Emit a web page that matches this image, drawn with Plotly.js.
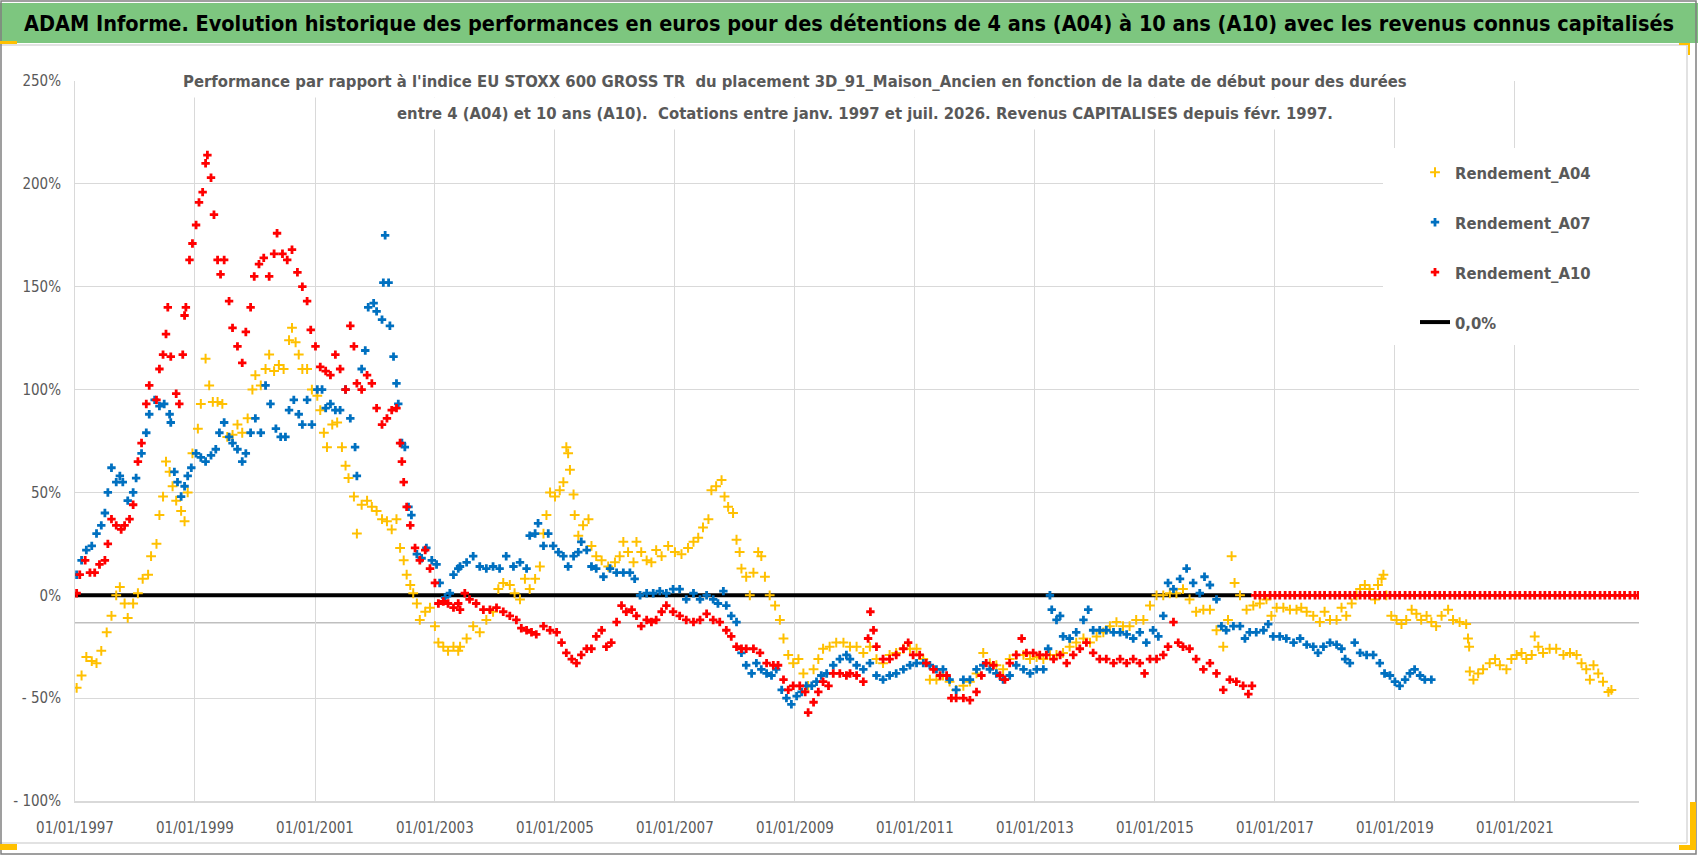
<!DOCTYPE html>
<html>
<head>
<meta charset="utf-8">
<script src="https://cdn.plot.ly/plotly-3.0.1.min.js"></script>
<style>html,body{margin:0;padding:0;background:#fff;}</style>
</head>
<body>
<div id="chart"></div>
<script>
// values (start date as decimal year, performance in %)
const a04Years = [
  1997.03, 1997.11, 1997.19, 1997.28, 1997.36, 1997.44, 1997.53, 1997.61, 1997.69, 1997.75, 1997.83, 1997.88,
  1997.97, 1998.05, 1998.13, 1998.22, 1998.27, 1998.36, 1998.41, 1998.47, 1998.52, 1998.58, 1998.63, 1998.69,
  1998.77, 1998.83, 1998.88, 1998.96, 1999.05, 1999.10, 1999.18, 1999.24, 1999.30, 1999.38, 1999.46, 1999.54,
  1999.63, 1999.71, 1999.79, 1999.88, 1999.96, 2000.01, 2000.10, 2000.18, 2000.24, 2000.32, 2000.40, 2000.48,
  2000.57, 2000.62, 2000.68, 2000.73, 2000.79, 2000.87, 2000.95, 2001.04, 2001.09, 2001.15, 2001.20, 2001.29,
  2001.37, 2001.45, 2001.51, 2001.56, 2001.65, 2001.70, 2001.78, 2001.87, 2001.95, 2002.03, 2002.12, 2002.20,
  2002.28, 2002.36, 2002.42, 2002.48, 2002.53, 2002.59, 2002.64, 2002.70, 2002.75, 2002.84, 2002.92, 2003.00,
  2003.06, 2003.14, 2003.22, 2003.31, 2003.39,
  2003.42, 2003.53, 2003.64, 2003.75, 2003.86, 2003.97, 2004.06, 2004.14, 2004.25, 2004.33, 2004.42, 2004.50,
  2004.58, 2004.67, 2004.75, 2004.81, 2004.86, 2004.92, 2005.00, 2005.08, 2005.14, 2005.19, 2005.22, 2005.25,
  2005.31, 2005.33, 2005.39, 2005.47, 2005.56, 2005.61, 2005.69, 2005.78, 2005.89, 2006.00, 2006.08, 2006.14,
  2006.22, 2006.31, 2006.36, 2006.44, 2006.53, 2006.61, 2006.69, 2006.78, 2006.89, 2007.00, 2007.11, 2007.22,
  2007.31, 2007.39, 2007.47, 2007.56, 2007.61, 2007.69, 2007.78, 2007.83, 2007.89, 2007.97, 2008.03, 2008.08,
  2008.11, 2008.19, 2008.25, 2008.31, 2008.39, 2008.44, 2008.50, 2008.58, 2008.67, 2008.75, 2008.81, 2008.89,
  2008.97, 2009.06, 2009.14, 2009.22, 2009.31, 2009.39, 2009.47, 2009.58, 2009.69, 2009.81,
  2009.92, 2010.03, 2010.14, 2010.25, 2010.36, 2010.47, 2010.58, 2010.69, 2010.81, 2010.92, 2011.03, 2011.14,
  2011.25, 2011.36, 2011.47, 2011.58, 2011.69, 2011.81, 2011.92, 2012.03, 2012.14, 2012.25, 2012.36, 2012.47,
  2012.58, 2012.69, 2012.81, 2012.92, 2013.03, 2013.14, 2013.25, 2013.36, 2013.47, 2013.58, 2013.69, 2013.81,
  2013.92, 2014.03, 2014.14, 2014.25, 2014.36, 2014.47, 2014.58, 2014.69, 2014.81, 2014.92, 2015.03, 2015.14,
  2015.25, 2015.36, 2015.47, 2015.58, 2015.69, 2015.81, 2015.92, 2016.03, 2016.14, 2016.22, 2016.28, 2016.33,
  2016.42,
  2016.53, 2016.64, 2016.75, 2016.86, 2016.94, 2017.03, 2017.14, 2017.25, 2017.36, 2017.44, 2017.53, 2017.64,
  2017.75, 2017.83, 2017.92, 2018.03, 2018.11, 2018.19, 2018.28, 2018.36, 2018.42, 2018.50, 2018.58, 2018.67,
  2018.72, 2018.78, 2018.81, 2018.86, 2018.94, 2019.03, 2019.11, 2019.19, 2019.28, 2019.36, 2019.44, 2019.53,
  2019.61, 2019.69, 2019.78, 2019.89, 2019.97, 2020.08, 2020.19, 2020.22, 2020.24, 2020.25, 2020.31, 2020.39,
  2020.47, 2020.58, 2020.67, 2020.75, 2020.86, 2020.94, 2021.03, 2021.11, 2021.19, 2021.28, 2021.33, 2021.39,
  2021.47, 2021.58, 2021.69, 2021.81, 2021.92, 2022.03, 2022.11, 2022.19, 2022.25, 2022.31, 2022.39, 2022.47,
  2022.56, 2022.61
];
const a04Values = [
  -45, -39, -30, -32, -33, -27, -18, -10, 0, 4, -4, -11,
  -4, 1, 8, 10, 19, 25, 39, 48, 65, 60, 53, 46,
  41, 36, 50, 69, 81, 93, 115, 102, 94, 94, 93, 77,
  78, 83, 79, 86, 100, 107, 102, 110, 117, 109, 112, 110,
  124, 130, 123, 117, 110, 110, 100, 97, 90, 79, 72, 83,
  84, 72, 63, 57, 48, 30, 44, 46, 43, 41, 37, 36,
  32, 37, 23, 17, 10, 5, 1, -4, -12, -8, -6, -15,
  -23, -25, -27, -25, -27,
  -25, -21, -15, -18, -12, -8, 3, 6, 5, 1, -2, 8,
  3, 8, 14, 30, 39, 50, 48, 51, 55, 72, 69, 61,
  49, 39, 29, 34, 37, 24, 19, 17, 14, 16, 19, 26,
  21, 16, 26, 21, 17, 16, 22, 19, 24, 21, 20, 23,
  26, 28, 33, 37, 51, 53, 56, 48, 43, 40, 27, 21,
  13, 9, 0, 11, 21, 19, 9, 0, -5, -12, -21, -29,
  -33, -31, -38, -44, -36, -31, -26, -25, -23, -23,
  -25, -25, -28, -25, -31, -33, -29, -28, -26, -26, -26, -31,
  -41, -41, -39, -42, -46, -44, -42, -38, -28, -33, -34, -36,
  -31, -29, -29, -31, -30, -31, -29, -29, -28, -25, -23, -21,
  -23, -20, -18, -15, -13, -15, -15, -12, -12, -5, 0, 0,
  1, 1, 3, -2, -8, -7, -7, -17, -25, -12, 19, 6,
  0,
  -7, -5, -4, -2, -10, -6, -6, -7, -7, -6, -8, -10,
  -13, -8, -12, -12, -6, -10, -4, 0, 3, 5, 3, -2,
  5, 8, 10, 0, -10, -12, -14, -12, -7, -9, -12, -10,
  -13, -15, -10, -7, -12, -13, -14, -21, -25, -37, -41, -38,
  -36, -33, -31, -34, -36, -31, -29, -28, -31, -29, -20, -25,
  -28, -26, -26, -29, -28, -29, -33, -36, -41, -34, -38, -42,
  -47, -46
];

const a07Years = [
  1997.03, 1997.11, 1997.19, 1997.28, 1997.36, 1997.44, 1997.50, 1997.55, 1997.61, 1997.69, 1997.75, 1997.80,
  1997.88, 1997.97, 1998.02, 1998.11, 1998.19, 1998.24, 1998.33, 1998.41, 1998.49, 1998.58, 1998.60, 1998.66,
  1998.71, 1998.77, 1998.83, 1998.88, 1998.94, 1999.02, 1999.10, 1999.18, 1999.27, 1999.35, 1999.41, 1999.49,
  1999.57, 1999.63, 1999.71, 1999.79, 1999.85, 1999.93, 2000.01, 2000.10, 2000.18, 2000.26, 2000.35, 2000.43,
  2000.51, 2000.57, 2000.65, 2000.73, 2000.79, 2000.87, 2000.95, 2001.04, 2001.12, 2001.18, 2001.26, 2001.34,
  2001.42, 2001.51, 2001.59, 2001.67, 2001.70, 2001.78, 2001.84, 2001.89, 2001.98, 2002.03, 2002.12, 2002.14,
  2002.17, 2002.23, 2002.25, 2002.31, 2002.36, 2002.39, 2002.45, 2002.50, 2002.56, 2002.61, 2002.70, 2002.78,
  2002.86, 2002.95, 2003.03, 2003.08, 2003.17, 2003.25, 2003.31, 2003.39,
  2003.42, 2003.53, 2003.64, 2003.75, 2003.86, 2003.97, 2004.08, 2004.19, 2004.31, 2004.42, 2004.53, 2004.58,
  2004.67, 2004.72, 2004.81, 2004.89, 2004.97, 2005.06, 2005.14, 2005.22, 2005.31, 2005.39, 2005.44, 2005.53,
  2005.61, 2005.69, 2005.81, 2005.92, 2006.03, 2006.14, 2006.25, 2006.33, 2006.42, 2006.53, 2006.64, 2006.75,
  2006.86, 2006.97, 2007.08, 2007.19, 2007.31, 2007.42, 2007.53, 2007.64, 2007.72, 2007.81, 2007.86, 2007.94,
  2008.03, 2008.11, 2008.19, 2008.28, 2008.36, 2008.44, 2008.53, 2008.61, 2008.69, 2008.78, 2008.86, 2008.94,
  2009.03, 2009.11, 2009.19, 2009.28, 2009.36, 2009.44, 2009.53, 2009.64, 2009.75, 2009.86,
  2009.92, 2010.03, 2010.14, 2010.25, 2010.36, 2010.47, 2010.58, 2010.69, 2010.81, 2010.92, 2011.03, 2011.14,
  2011.25, 2011.36, 2011.47, 2011.58, 2011.69, 2011.81, 2011.92, 2012.03, 2012.14, 2012.25, 2012.36, 2012.47,
  2012.58, 2012.69, 2012.81, 2012.92, 2013.03, 2013.14, 2013.22, 2013.25, 2013.28, 2013.36, 2013.42, 2013.47,
  2013.58, 2013.69, 2013.81, 2013.89, 2013.97, 2014.08, 2014.19, 2014.31, 2014.42, 2014.53, 2014.64, 2014.75,
  2014.86, 2014.97, 2015.06, 2015.14, 2015.22, 2015.31, 2015.42, 2015.53, 2015.64, 2015.75, 2015.83, 2015.92,
  2016.03, 2016.11, 2016.19, 2016.31, 2016.42,
  2016.50, 2016.58, 2016.69, 2016.81, 2016.89, 2016.97, 2017.08, 2017.19, 2017.31, 2017.42, 2017.53, 2017.64,
  2017.72, 2017.81, 2017.92, 2018.03, 2018.11, 2018.17, 2018.25, 2018.33, 2018.42, 2018.53, 2018.64, 2018.75,
  2018.83, 2018.92, 2019.00, 2019.08, 2019.17, 2019.25, 2019.33, 2019.42, 2019.50, 2019.61
];
const a07Values = [
  10, 17, 22, 24, 30, 34, 40, 50, 62, 55, 58, 55,
  46, 50, 57, 69, 79, 88, 95, 92, 93, 88, 84, 60,
  55, 48, 53, 58, 62, 69, 67, 65, 68, 71, 79, 84,
  77, 74, 71, 65, 69, 79, 86, 79, 102, 93, 81, 77,
  77, 90, 95, 88, 83, 95, 83, 100, 100, 91, 93, 90,
  90, 100, 86, 72, 58, 110, 119, 140, 142, 138, 134, 152,
  175, 152, 131, 116, 103, 93, 74, 72, 43, 39, 20, 18,
  23, 17, 15, 6, -1, 1, 10, 13,
  14, 16, 19, 14, 13, 14, 13, 19, 14, 16, 13, 29,
  30, 35, 24, 30, 24, 21, 19, 14, 19, 21, 26, 22,
  14, 13, 9, 13, 11, 11, 11, 8, 0, 1, 1, 2,
  1, 3, 3, -2, 1, -2, 0, -2, -4, 2, -5, -10,
  -13, -28, -34, -38, -33, -36, -38, -39, -36, -46, -50, -53,
  -49, -47, -44, -44, -42, -39, -38, -34, -31, -29,
  -31, -34, -36, -33, -39, -41, -39, -38, -36, -34, -33, -33,
  -34, -36, -36, -41, -46, -41, -41, -36, -34, -36, -38, -41,
  -39, -34, -36, -38, -36, -36, -26, 0, -7, -12, -10, -20,
  -21, -18, -12, -7, -17, -17, -17, -18, -18, -19, -21, -18,
  -23, -17, -20, -10, 6, 3, 8, 13, 6, 1, 9, 5,
  -2, -15, -17, -15, -15,
  -21, -18, -18, -17, -14, -20, -20, -21, -23, -21, -24, -25,
  -28, -25, -23, -24, -26, -31, -33, -23, -28, -29, -29, -33,
  -38, -39, -42, -44, -41, -38, -36, -39, -41, -41
];

const a10Years = [
  1997.03, 1997.08, 1997.17, 1997.25, 1997.33, 1997.41, 1997.50, 1997.55, 1997.61, 1997.69, 1997.77, 1997.83,
  1997.91, 1997.97, 1998.05, 1998.11, 1998.19, 1998.24, 1998.36, 1998.41, 1998.47, 1998.52, 1998.55, 1998.60,
  1998.69, 1998.74, 1998.80, 1998.83, 1998.85, 1998.91, 1998.96, 1999.02, 1999.07, 1999.13, 1999.18, 1999.21,
  1999.27, 1999.32, 1999.38, 1999.43, 1999.49, 1999.57, 1999.63, 1999.71, 1999.79, 1999.85, 1999.93, 1999.99,
  2000.07, 2000.15, 2000.24, 2000.32, 2000.37, 2000.46, 2000.54, 2000.62, 2000.71, 2000.79, 2000.87, 2000.93,
  2001.01, 2001.09, 2001.18, 2001.26, 2001.34, 2001.42, 2001.51, 2001.59, 2001.65, 2001.70, 2001.78, 2001.87,
  2001.95, 2002.03, 2002.12, 2002.20, 2002.28, 2002.36, 2002.42, 2002.45, 2002.48, 2002.53, 2002.59, 2002.67,
  2002.75, 2002.84, 2002.92, 2003.00, 2003.06, 2003.14, 2003.22, 2003.31, 2003.39,
  2003.42, 2003.50, 2003.58, 2003.69, 2003.81, 2003.92, 2004.03, 2004.14, 2004.25, 2004.36, 2004.44, 2004.53,
  2004.61, 2004.69, 2004.81, 2004.92, 2005.03, 2005.11, 2005.19, 2005.28, 2005.36, 2005.44, 2005.53, 2005.61,
  2005.69, 2005.78, 2005.86, 2005.94, 2006.03, 2006.11, 2006.19, 2006.28, 2006.36, 2006.44, 2006.53, 2006.61,
  2006.69, 2006.78, 2006.86, 2006.97, 2007.08, 2007.19, 2007.31, 2007.42, 2007.53, 2007.64, 2007.75, 2007.86,
  2007.94, 2008.03, 2008.11, 2008.19, 2008.31, 2008.42, 2008.53, 2008.64, 2008.72, 2008.81, 2008.89, 2008.97,
  2009.08, 2009.17, 2009.22, 2009.31, 2009.39, 2009.47, 2009.56, 2009.64, 2009.75, 2009.86,
  2009.92, 2010.03, 2010.14, 2010.22, 2010.26, 2010.31, 2010.36, 2010.47, 2010.58, 2010.69, 2010.81, 2010.89,
  2010.97, 2011.08, 2011.19, 2011.31, 2011.42, 2011.53, 2011.61, 2011.69, 2011.81, 2011.92, 2012.03, 2012.11,
  2012.19, 2012.31, 2012.42, 2012.50, 2012.58, 2012.69, 2012.78, 2012.86, 2012.97, 2013.08, 2013.19, 2013.31,
  2013.42, 2013.53, 2013.64, 2013.75, 2013.86, 2013.97, 2014.08, 2014.19, 2014.31, 2014.42, 2014.53, 2014.64,
  2014.75, 2014.83, 2014.92, 2015.03, 2015.14, 2015.22, 2015.31, 2015.39, 2015.47, 2015.58, 2015.69, 2015.81,
  2015.92, 2016.03, 2016.14, 2016.25, 2016.36, 2016.47, 2016.56, 2016.62
];
const a10Values = [
  1, 10, 17, 11, 11, 15, 17, 25, 37, 34, 32, 34,
  37, 44, 65, 74, 93, 102, 95, 110, 117, 127, 140, 116,
  98, 93, 117, 136, 140, 163, 171, 180, 191, 196, 210, 214,
  203, 185, 163, 156, 163, 143, 130, 121, 113, 128, 140, 155,
  161, 164, 155, 166, 176, 166, 163, 168, 157, 150, 143, 129,
  121, 111, 109, 107, 117, 110, 100, 131, 121, 103, 100, 107,
  103, 91, 83, 86, 90, 91, 74, 65, 55, 43, 34, 23,
  17, 22, 13, 6, -4, -3, -4, -6, -4,
  -7, 1, -2, -4, -7, -7, -6, -8, -10, -12, -16, -17,
  -18, -19, -15, -17, -18, -23, -28, -31, -33, -29, -26, -26,
  -20, -17, -25, -23, -13, -5, -8, -7, -10, -15, -12, -13,
  -12, -8, -5, -8, -10, -12, -13, -12, -9, -12, -13, -17,
  -20, -25, -26, -26, -26, -28, -33, -34, -34, -41, -46, -44,
  -44, -47, -57, -52, -47, -42, -44, -38, -38, -39,
  -38, -39, -42, -21, -8, -17, -25, -31, -31, -29, -26, -23,
  -29, -29, -33, -36, -39, -39, -50, -50, -50, -51, -47, -39,
  -33, -34, -39, -41, -33, -29, -21, -28, -28, -29, -29, -31,
  -29, -33, -29, -26, -23, -28, -31, -31, -33, -31, -33, -31,
  -33, -38, -31, -31, -29, -25, -13, -23, -25, -26, -31, -36,
  -33, -38, -46, -41, -42, -44, -48, -44
];
// after mid-2016 the 10-year series is plotted at 0
const a10TailYears = [
  2016.67, 2016.75, 2016.83, 2016.92,
  2017.00, 2017.08, 2017.17, 2017.25, 2017.33, 2017.42, 2017.50, 2017.58, 2017.67, 2017.75, 2017.83, 2017.92,
  2018.00, 2018.08, 2018.17, 2018.25, 2018.33, 2018.42, 2018.50, 2018.58, 2018.67, 2018.75, 2018.83, 2018.92,
  2019.00, 2019.08, 2019.17, 2019.25, 2019.33, 2019.42, 2019.50, 2019.58, 2019.67, 2019.75, 2019.83, 2019.92,
  2020.00, 2020.08, 2020.17, 2020.25, 2020.33, 2020.42, 2020.50, 2020.58, 2020.67, 2020.75, 2020.83, 2020.92,
  2021.00, 2021.08, 2021.17, 2021.25, 2021.33, 2021.42, 2021.50, 2021.58, 2021.67, 2021.75, 2021.83, 2021.92,
  2022.00, 2022.08, 2022.17, 2022.25, 2022.33, 2022.42, 2022.50, 2022.58, 2022.67, 2022.75, 2022.83, 2022.92,
  2023.00, 2023.06
];
const a10TailValues = [
  0, 0, 0, 0,
  0, 0, 0, 0, 0, 0, 0, 0, 0, 0, 0, 0,
  0, 0, 0, 0, 0, 0, 0, 0, 0, 0, 0, 0,
  0, 0, 0, 0, 0, 0, 0, 0, 0, 0, 0, 0,
  0, 0, 0, 0, 0, 0, 0, 0, 0, 0, 0, 0,
  0, 0, 0, 0, 0, 0, 0, 0, 0, 0, 0, 0,
  0, 0, 0, 0, 0, 0, 0, 0, 0, 0, 0, 0,
  0, 0
];

const zeroLineYears = [1997.0, 2016.61];
const zeroLineValues = [0, 0];

const xTickDates = ["1997-01-01", "1999-01-01", "2001-01-01", "2003-01-01", "2005-01-01", "2007-01-01",
  "2009-01-01", "2011-01-01", "2013-01-01", "2015-01-01", "2017-01-01", "2019-01-01", "2021-01-01"];
const xTickLabels = ["01/01/1997", "01/01/1999", "01/01/2001", "01/01/2003", "01/01/2005", "01/01/2007",
  "01/01/2009", "01/01/2011", "01/01/2013", "01/01/2015", "01/01/2017", "01/01/2019", "01/01/2021"];
const yTickVals = [-100, -50, 0, 50, 100, 150, 200, 250];
const yTickLabels = ["- 100%", "- 50%", "0%", "50%", "100%", "150%", "200%", "250%"];
const axisCrossValue = -13.4;

const FONT = "'DejaVu Sans Condensed', 'DejaVu Sans', sans-serif";
const GREY_TEXT = "#595959";

// decimal year -> ISO date
function yearToDate(y) {
  const year = Math.floor(y);
  const start = Date.UTC(year, 0, 1);
  const end = Date.UTC(year + 1, 0, 1);
  return new Date(start + (y - year) * (end - start)).toISOString().slice(0, 10);
}

// plot area in pixels
const W = 1698, H = 856;
const PL = 75, PR = 1639, PT = 81, PB = 801;
const px = (x) => (x - PL) / (PR - PL);
const py = (y) => (PB - y) / (PB - PT);

function rect(x0, y0, x1, y1, fill, line) {
  return {
    type: "rect", xref: "paper", yref: "paper",
    x0: px(x0), x1: px(x1), y0: py(y1), y1: py(y0),
    fillcolor: fill, line: line || { width: 0 }, layer: "above",
  };
}

const traces = [
  {
    x: zeroLineYears.map(yearToDate), y: zeroLineValues,
    type: "scatter", mode: "lines", name: "0,0%",
    line: { color: "#000000", width: 4 },
    legendgroup: "g4", legendrank: 4, hoverinfo: "skip",
  },
  {
    x: a04Years.map(yearToDate), y: a04Values,
    type: "scatter", mode: "markers", name: "Rendement_A04",
    marker: { symbol: "cross-thin-open", size: 7, color: "#FFC000", line: { color: "#FFC000", width: 2 } },
    legendgroup: "g1", legendrank: 1, hoverinfo: "skip",
  },
  {
    x: a07Years.map(yearToDate), y: a07Values,
    type: "scatter", mode: "markers", name: "Rendement_A07",
    marker: { symbol: "cross", size: 7, color: "#0070C0" },
    legendgroup: "g2", legendrank: 2, hoverinfo: "skip",
  },
  {
    x: a10Years.concat(a10TailYears).map(yearToDate), y: a10Values.concat(a10TailValues),
    type: "scatter", mode: "markers", name: "Rendement_A10",
    marker: { symbol: "cross", size: 7, color: "#FF0000" },
    legendgroup: "g3", legendrank: 3, hoverinfo: "skip",
  },
];

const shapes = [
  // green title band
  rect(0, 3, W, 43, "#7DC67F"),
  // inner chart border
  { type: "line", xref: "paper", yref: "paper", x0: px(0), x1: px(1687), y0: py(45), y1: py(45), line: { color: "#D9D9D9", width: 1.5 } },
  { type: "line", xref: "paper", yref: "paper", x0: px(0), x1: px(1687), y0: py(843), y1: py(843), line: { color: "#D9D9D9", width: 1.5 } },
  { type: "line", xref: "paper", yref: "paper", x0: px(1687), x1: px(1687), y0: py(45), y1: py(843), line: { color: "#D9D9D9", width: 1.5 } },
  // outer border
  rect(1, 1, 1696, 854, "rgba(0,0,0,0)", { color: "#808080", width: 1.5 }),
  // legend box background
  rect(1383, 148, 1639, 345, "#FFFFFF"),
  // horizontal axis crossing line
  { type: "line", xref: "paper", yref: "y", x0: 0, x1: 1, y0: axisCrossValue, y1: axisCrossValue, line: { color: "#BFBFBF", width: 1.5 }, layer: "below" },
  // selection handles
  rect(0, 41, 17, 44, "#FFC000"),
  rect(0, 844, 17, 850, "#FFC000"),
  rect(1679, 43, 1690, 45, "#FFC000"),
  rect(1688, 43, 1690, 55, "#FFC000"),
  rect(1690, 802, 1696, 850, "#FFC000"),
  rect(1679, 845, 1696, 850, "#FFC000"),
];

const annotations = [
  {
    text: "<b>Performance par rapport à l'indice EU STOXX 600 GROSS TR  du placement 3D_91_Maison_Ancien en fonction de la date de début pour des durées</b>",
    xref: "paper", yref: "paper", x: px(795), y: py(81), xanchor: "center", yanchor: "middle",
    showarrow: false, bgcolor: "#FFFFFF", borderpad: 6,
    font: { family: FONT, size: 16.5, color: GREY_TEXT },
  },
  {
    text: "<b>entre 4 (A04) et 10 ans (A10).  Cotations entre janv. 1997 et juil. 2026. Revenus CAPITALISES depuis févr. 1997.</b>",
    xref: "paper", yref: "paper", x: px(865), y: py(114), xanchor: "center", yanchor: "middle",
    showarrow: false, bgcolor: "#FFFFFF", borderpad: 6,
    font: { family: FONT, size: 16.5, color: GREY_TEXT },
  },
];

const layout = {
  width: W,
  height: H,
  margin: { l: PL, r: W - PR, t: PT, b: H - PB, pad: 0 },
  paper_bgcolor: "#FFFFFF",
  plot_bgcolor: "#FFFFFF",
  font: { family: FONT, color: GREY_TEXT },
  title: {
    text: "<b>ADAM Informe. Evolution historique des performances en euros pour des détentions de 4 ans (A04) à 10 ans (A10) avec les revenus connus capitalisés</b>",
    xref: "container", yref: "container", x: 0.5, xanchor: "center",
    y: 1 - 23 / H, yanchor: "middle",
    font: { family: FONT, size: 21.5, color: "#000000" },
  },
  xaxis: {
    type: "date",
    range: [yearToDate(1997.0), yearToDate(2023.07)],
    tickvals: xTickDates,
    ticktext: xTickLabels,
    showgrid: true, gridcolor: "#D9D9D9", gridwidth: 1,
    zeroline: false, showline: true, linecolor: "#D9D9D9", linewidth: 1.5,
    ticks: "", ticklabelstandoff: 12,
    tickfont: { family: FONT, size: 15, color: GREY_TEXT },
  },
  yaxis: {
    range: [-100, 250],
    tickvals: yTickVals,
    ticktext: yTickLabels,
    showgrid: true, gridcolor: "#D9D9D9", gridwidth: 1,
    zeroline: false, showline: true, linecolor: "#D9D9D9", linewidth: 1,
    ticks: "", ticklabelstandoff: 10,
    tickfont: { family: FONT, size: 15, color: GREY_TEXT },
  },
  legend: {
    x: px(1383), y: py(155), xanchor: "left", yanchor: "top",
    bgcolor: "rgba(0,0,0,0)", borderwidth: 0,
    traceorder: "grouped", tracegroupgap: 25.5, indentation: 32,
    font: { family: FONT, size: 16.5, color: GREY_TEXT, weight: "bold" },
  },
  showlegend: true,
  shapes: shapes,
  annotations: annotations,
};

Plotly.newPlot("chart", traces, layout, { displayModeBar: false, staticPlot: true });
</script>
</body>
</html>
